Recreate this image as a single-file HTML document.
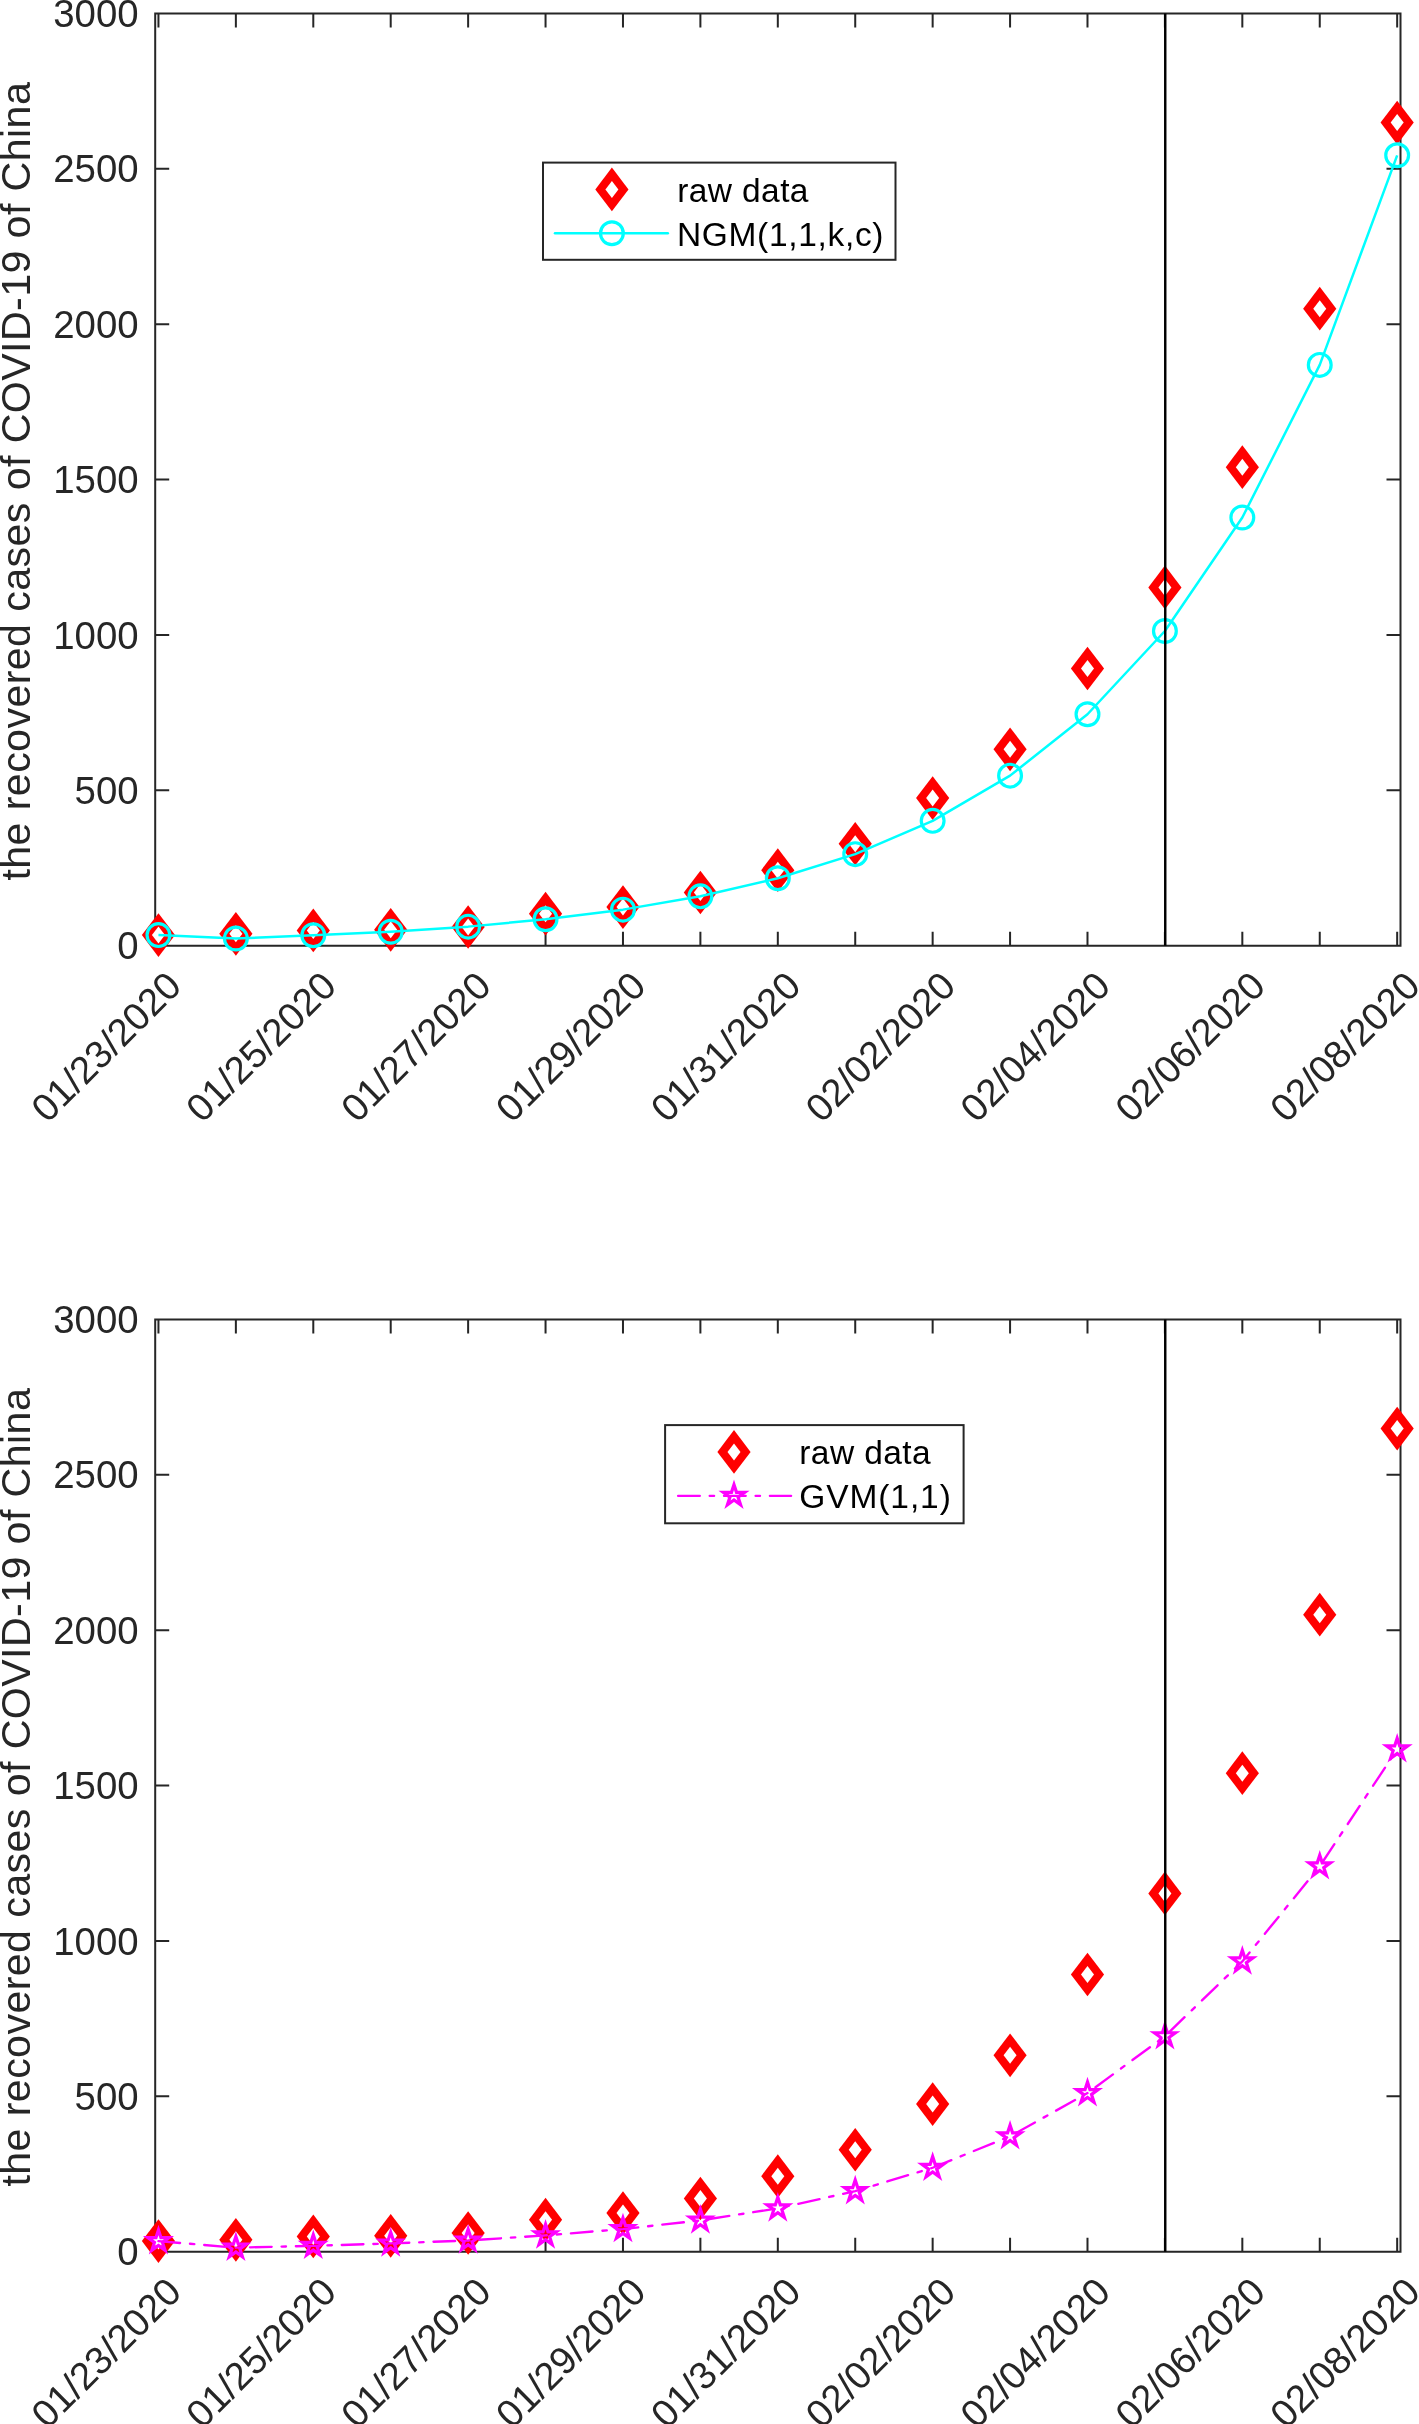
<!DOCTYPE html>
<html><head><meta charset="utf-8"><style>
html,body{margin:0;padding:0;background:#fff;}
body{width:1419px;height:2424px;overflow:hidden;}
svg{display:block;}
text{font-family:"Liberation Sans",sans-serif;}
</style></head><body>
<svg width="1419" height="2424" viewBox="0 0 1419 2424" style="will-change:transform">
<rect width="1419" height="2424" fill="#fff"/>

<path d="M155.2 13.5H1400.5V945.65H155.2ZM158.45 945.65v-13.0M158.45 13.5v13.0M235.87 945.65v-13.0M235.87 13.5v13.0M313.29 945.65v-13.0M313.29 13.5v13.0M390.71 945.65v-13.0M390.71 13.5v13.0M468.13 945.65v-13.0M468.13 13.5v13.0M545.55 945.65v-13.0M545.55 13.5v13.0M622.97 945.65v-13.0M622.97 13.5v13.0M700.39 945.65v-13.0M700.39 13.5v13.0M777.81 945.65v-13.0M777.81 13.5v13.0M855.23 945.65v-13.0M855.23 13.5v13.0M932.65 945.65v-13.0M932.65 13.5v13.0M1010.07 945.65v-13.0M1010.07 13.5v13.0M1087.49 945.65v-13.0M1087.49 13.5v13.0M1164.91 945.65v-13.0M1164.91 13.5v13.0M1242.33 945.65v-13.0M1242.33 13.5v13.0M1319.75 945.65v-13.0M1319.75 13.5v13.0M1397.17 945.65v-13.0M1397.17 13.5v13.0M155.2 945.65h13.0M1400.5 945.65h-13.0M155.2 790.29h13.0M1400.5 790.29h-13.0M155.2 634.93h13.0M1400.5 634.93h-13.0M155.2 479.57h13.0M1400.5 479.57h-13.0M155.2 324.22h13.0M1400.5 324.22h-13.0M155.2 168.86h13.0M1400.5 168.86h-13.0M155.2 13.5h13.0M1400.5 13.5h-13.0" fill="none" stroke="#262626" stroke-width="2.0" stroke-linecap="square"/>
<text x="138.6" y="945.65" dy="0.355em" text-anchor="end" font-size="38.4" fill="#262626">0</text>
<text x="138.6" y="790.29" dy="0.355em" text-anchor="end" font-size="38.4" fill="#262626">500</text>
<text x="138.6" y="634.93" dy="0.355em" text-anchor="end" font-size="38.4" fill="#262626">1000</text>
<text x="138.6" y="479.57" dy="0.355em" text-anchor="end" font-size="38.4" fill="#262626">1500</text>
<text x="138.6" y="324.22" dy="0.355em" text-anchor="end" font-size="38.4" fill="#262626">2000</text>
<text x="138.6" y="168.86" dy="0.355em" text-anchor="end" font-size="38.4" fill="#262626">2500</text>
<text x="138.6" y="13.5" dy="0.355em" text-anchor="end" font-size="38.4" fill="#262626">3000</text>
<text transform="translate(173.75,978.45) rotate(-45)" text-anchor="end" dy="0.355em" font-size="38.4" fill="#262626">01/23/2020</text>
<text transform="translate(328.59,978.45) rotate(-45)" text-anchor="end" dy="0.355em" font-size="38.4" fill="#262626">01/25/2020</text>
<text transform="translate(483.43,978.45) rotate(-45)" text-anchor="end" dy="0.355em" font-size="38.4" fill="#262626">01/27/2020</text>
<text transform="translate(638.27,978.45) rotate(-45)" text-anchor="end" dy="0.355em" font-size="38.4" fill="#262626">01/29/2020</text>
<text transform="translate(793.11,978.45) rotate(-45)" text-anchor="end" dy="0.355em" font-size="38.4" fill="#262626">01/31/2020</text>
<text transform="translate(947.95,978.45) rotate(-45)" text-anchor="end" dy="0.355em" font-size="38.4" fill="#262626">02/02/2020</text>
<text transform="translate(1102.79,978.45) rotate(-45)" text-anchor="end" dy="0.355em" font-size="38.4" fill="#262626">02/04/2020</text>
<text transform="translate(1257.63,978.45) rotate(-45)" text-anchor="end" dy="0.355em" font-size="38.4" fill="#262626">02/06/2020</text>
<text transform="translate(1412.47,978.45) rotate(-45)" text-anchor="end" dy="0.355em" font-size="38.4" fill="#262626">02/08/2020</text>
<text transform="translate(30,481.38) rotate(-90)" text-anchor="middle" font-size="41.2" fill="#262626" textLength="798.4" lengthAdjust="spacing">the recovered cases of COVID-19 of China</text>
<path d="M158.45 913.24L175.05 935.09L158.45 956.94L141.85 935.09Z" fill="#f00"/><path d="M158.45 926.59L164.95 935.09L158.45 943.59L151.95 935.09Z" fill="#fff"/>
<path d="M235.87 911.99L252.47 933.84L235.87 955.69L219.27 933.84Z" fill="#f00"/><path d="M235.87 925.34L242.37 933.84L235.87 942.34L229.37 933.84Z" fill="#fff"/>
<path d="M313.29 908.57L329.89 930.42L313.29 952.27L296.69 930.42Z" fill="#f00"/><path d="M313.29 921.92L319.79 930.42L313.29 938.92L306.79 930.42Z" fill="#fff"/>
<path d="M390.71 907.95L407.31 929.8L390.71 951.65L374.11 929.8Z" fill="#f00"/><path d="M390.71 921.3L397.21 929.8L390.71 938.3L384.21 929.8Z" fill="#fff"/>
<path d="M468.13 905.16L484.73 927.01L468.13 948.86L451.53 927.01Z" fill="#f00"/><path d="M468.13 918.51L474.63 927.01L468.13 935.51L461.63 927.01Z" fill="#fff"/>
<path d="M545.55 891.8L562.15 913.65L545.55 935.5L528.95 913.65Z" fill="#f00"/><path d="M545.55 905.15L552.05 913.65L545.55 922.15L539.05 913.65Z" fill="#fff"/>
<path d="M622.97 885.27L639.57 907.12L622.97 928.97L606.37 907.12Z" fill="#f00"/><path d="M622.97 898.62L629.47 907.12L622.97 915.62L616.47 907.12Z" fill="#fff"/>
<path d="M700.39 870.67L716.99 892.52L700.39 914.37L683.79 892.52Z" fill="#f00"/><path d="M700.39 884.02L706.89 892.52L700.39 901.02L693.89 892.52Z" fill="#fff"/>
<path d="M777.81 848.3L794.41 870.15L777.81 892L761.21 870.15Z" fill="#f00"/><path d="M777.81 861.65L784.31 870.15L777.81 878.65L771.31 870.15Z" fill="#fff"/>
<path d="M855.23 821.88L871.83 843.73L855.23 865.58L838.63 843.73Z" fill="#f00"/><path d="M855.23 835.23L861.73 843.73L855.23 852.23L848.73 843.73Z" fill="#fff"/>
<path d="M932.65 776.21L949.25 798.06L932.65 819.91L916.05 798.06Z" fill="#f00"/><path d="M932.65 789.56L939.15 798.06L932.65 806.56L926.15 798.06Z" fill="#fff"/>
<path d="M1010.07 727.43L1026.67 749.28L1010.07 771.13L993.47 749.28Z" fill="#f00"/><path d="M1010.07 740.78L1016.57 749.28L1010.07 757.78L1003.57 749.28Z" fill="#fff"/>
<path d="M1087.49 646.64L1104.09 668.49L1087.49 690.34L1070.89 668.49Z" fill="#f00"/><path d="M1087.49 659.99L1093.99 668.49L1087.49 676.99L1080.99 668.49Z" fill="#fff"/>
<path d="M1164.91 565.54L1181.51 587.39L1164.91 609.24L1148.31 587.39Z" fill="#f00"/><path d="M1164.91 578.89L1171.41 587.39L1164.91 595.89L1158.41 587.39Z" fill="#fff"/>
<path d="M1242.33 445.3L1258.93 467.15L1242.33 489L1225.73 467.15Z" fill="#f00"/><path d="M1242.33 458.65L1248.83 467.15L1242.33 475.65L1235.83 467.15Z" fill="#fff"/>
<path d="M1319.75 286.83L1336.35 308.68L1319.75 330.53L1303.15 308.68Z" fill="#f00"/><path d="M1319.75 300.18L1326.25 308.68L1319.75 317.18L1313.25 308.68Z" fill="#fff"/>
<path d="M1397.17 100.71L1413.77 122.56L1397.17 144.41L1380.57 122.56Z" fill="#f00"/><path d="M1397.17 114.06L1403.67 122.56L1397.17 131.06L1390.67 122.56Z" fill="#fff"/>
<polyline points="158.45,935.09 235.87,938.5 313.29,935.24 390.71,931.73 468.13,926.63 545.55,919.24 622.97,909.64 700.39,896.34 777.81,878.22 855.23,854.14 932.65,820.84 1010.07,775.63 1087.49,714.23 1164.91,630.99 1242.33,517.48 1319.75,364.92 1397.17,155.31" fill="none" stroke="#0ff" stroke-width="2.5" stroke-linejoin="round"/>
<circle cx="158.45" cy="935.09" r="11.4" fill="none" stroke="#0ff" stroke-width="3.2"/>
<circle cx="235.87" cy="938.5" r="11.4" fill="none" stroke="#0ff" stroke-width="3.2"/>
<circle cx="313.29" cy="935.24" r="11.4" fill="none" stroke="#0ff" stroke-width="3.2"/>
<circle cx="390.71" cy="931.73" r="11.4" fill="none" stroke="#0ff" stroke-width="3.2"/>
<circle cx="468.13" cy="926.63" r="11.4" fill="none" stroke="#0ff" stroke-width="3.2"/>
<circle cx="545.55" cy="919.24" r="11.4" fill="none" stroke="#0ff" stroke-width="3.2"/>
<circle cx="622.97" cy="909.64" r="11.4" fill="none" stroke="#0ff" stroke-width="3.2"/>
<circle cx="700.39" cy="896.34" r="11.4" fill="none" stroke="#0ff" stroke-width="3.2"/>
<circle cx="777.81" cy="878.22" r="11.4" fill="none" stroke="#0ff" stroke-width="3.2"/>
<circle cx="855.23" cy="854.14" r="11.4" fill="none" stroke="#0ff" stroke-width="3.2"/>
<circle cx="932.65" cy="820.84" r="11.4" fill="none" stroke="#0ff" stroke-width="3.2"/>
<circle cx="1010.07" cy="775.63" r="11.4" fill="none" stroke="#0ff" stroke-width="3.2"/>
<circle cx="1087.49" cy="714.23" r="11.4" fill="none" stroke="#0ff" stroke-width="3.2"/>
<circle cx="1164.91" cy="630.99" r="11.4" fill="none" stroke="#0ff" stroke-width="3.2"/>
<circle cx="1242.33" cy="517.48" r="11.4" fill="none" stroke="#0ff" stroke-width="3.2"/>
<circle cx="1319.75" cy="364.92" r="11.4" fill="none" stroke="#0ff" stroke-width="3.2"/>
<circle cx="1397.17" cy="155.31" r="11.4" fill="none" stroke="#0ff" stroke-width="3.2"/>
<path d="M1165.25 13.5V945.65" stroke="#000" stroke-width="2.45"/>
<path d="M155.2 1319.5H1400.5V2251.65H155.2ZM158.45 2251.65v-13.0M158.45 1319.5v13.0M235.87 2251.65v-13.0M235.87 1319.5v13.0M313.29 2251.65v-13.0M313.29 1319.5v13.0M390.71 2251.65v-13.0M390.71 1319.5v13.0M468.13 2251.65v-13.0M468.13 1319.5v13.0M545.55 2251.65v-13.0M545.55 1319.5v13.0M622.97 2251.65v-13.0M622.97 1319.5v13.0M700.39 2251.65v-13.0M700.39 1319.5v13.0M777.81 2251.65v-13.0M777.81 1319.5v13.0M855.23 2251.65v-13.0M855.23 1319.5v13.0M932.65 2251.65v-13.0M932.65 1319.5v13.0M1010.07 2251.65v-13.0M1010.07 1319.5v13.0M1087.49 2251.65v-13.0M1087.49 1319.5v13.0M1164.91 2251.65v-13.0M1164.91 1319.5v13.0M1242.33 2251.65v-13.0M1242.33 1319.5v13.0M1319.75 2251.65v-13.0M1319.75 1319.5v13.0M1397.17 2251.65v-13.0M1397.17 1319.5v13.0M155.2 2251.65h13.0M1400.5 2251.65h-13.0M155.2 2096.29h13.0M1400.5 2096.29h-13.0M155.2 1940.93h13.0M1400.5 1940.93h-13.0M155.2 1785.58h13.0M1400.5 1785.58h-13.0M155.2 1630.22h13.0M1400.5 1630.22h-13.0M155.2 1474.86h13.0M1400.5 1474.86h-13.0M155.2 1319.5h13.0M1400.5 1319.5h-13.0" fill="none" stroke="#262626" stroke-width="2.0" stroke-linecap="square"/>
<text x="138.6" y="2251.65" dy="0.355em" text-anchor="end" font-size="38.4" fill="#262626">0</text>
<text x="138.6" y="2096.29" dy="0.355em" text-anchor="end" font-size="38.4" fill="#262626">500</text>
<text x="138.6" y="1940.93" dy="0.355em" text-anchor="end" font-size="38.4" fill="#262626">1000</text>
<text x="138.6" y="1785.58" dy="0.355em" text-anchor="end" font-size="38.4" fill="#262626">1500</text>
<text x="138.6" y="1630.22" dy="0.355em" text-anchor="end" font-size="38.4" fill="#262626">2000</text>
<text x="138.6" y="1474.86" dy="0.355em" text-anchor="end" font-size="38.4" fill="#262626">2500</text>
<text x="138.6" y="1319.5" dy="0.355em" text-anchor="end" font-size="38.4" fill="#262626">3000</text>
<text transform="translate(173.75,2284.45) rotate(-45)" text-anchor="end" dy="0.355em" font-size="38.4" fill="#262626">01/23/2020</text>
<text transform="translate(328.59,2284.45) rotate(-45)" text-anchor="end" dy="0.355em" font-size="38.4" fill="#262626">01/25/2020</text>
<text transform="translate(483.43,2284.45) rotate(-45)" text-anchor="end" dy="0.355em" font-size="38.4" fill="#262626">01/27/2020</text>
<text transform="translate(638.27,2284.45) rotate(-45)" text-anchor="end" dy="0.355em" font-size="38.4" fill="#262626">01/29/2020</text>
<text transform="translate(793.11,2284.45) rotate(-45)" text-anchor="end" dy="0.355em" font-size="38.4" fill="#262626">01/31/2020</text>
<text transform="translate(947.95,2284.45) rotate(-45)" text-anchor="end" dy="0.355em" font-size="38.4" fill="#262626">02/02/2020</text>
<text transform="translate(1102.79,2284.45) rotate(-45)" text-anchor="end" dy="0.355em" font-size="38.4" fill="#262626">02/04/2020</text>
<text transform="translate(1257.63,2284.45) rotate(-45)" text-anchor="end" dy="0.355em" font-size="38.4" fill="#262626">02/06/2020</text>
<text transform="translate(1412.47,2284.45) rotate(-45)" text-anchor="end" dy="0.355em" font-size="38.4" fill="#262626">02/08/2020</text>
<text transform="translate(30,1787.38) rotate(-90)" text-anchor="middle" font-size="41.2" fill="#262626" textLength="798.4" lengthAdjust="spacing">the recovered cases of COVID-19 of China</text>
<path d="M158.45 2219.24L175.05 2241.09L158.45 2262.94L141.85 2241.09Z" fill="#f00"/><path d="M158.45 2232.59L164.95 2241.09L158.45 2249.59L151.95 2241.09Z" fill="#fff"/>
<path d="M235.87 2217.99L252.47 2239.84L235.87 2261.69L219.27 2239.84Z" fill="#f00"/><path d="M235.87 2231.34L242.37 2239.84L235.87 2248.34L229.37 2239.84Z" fill="#fff"/>
<path d="M313.29 2214.57L329.89 2236.42L313.29 2258.27L296.69 2236.42Z" fill="#f00"/><path d="M313.29 2227.92L319.79 2236.42L313.29 2244.92L306.79 2236.42Z" fill="#fff"/>
<path d="M390.71 2213.95L407.31 2235.8L390.71 2257.65L374.11 2235.8Z" fill="#f00"/><path d="M390.71 2227.3L397.21 2235.8L390.71 2244.3L384.21 2235.8Z" fill="#fff"/>
<path d="M468.13 2211.16L484.73 2233.01L468.13 2254.86L451.53 2233.01Z" fill="#f00"/><path d="M468.13 2224.51L474.63 2233.01L468.13 2241.51L461.63 2233.01Z" fill="#fff"/>
<path d="M545.55 2197.8L562.15 2219.65L545.55 2241.5L528.95 2219.65Z" fill="#f00"/><path d="M545.55 2211.15L552.05 2219.65L545.55 2228.15L539.05 2219.65Z" fill="#fff"/>
<path d="M622.97 2191.27L639.57 2213.12L622.97 2234.97L606.37 2213.12Z" fill="#f00"/><path d="M622.97 2204.62L629.47 2213.12L622.97 2221.62L616.47 2213.12Z" fill="#fff"/>
<path d="M700.39 2176.67L716.99 2198.52L700.39 2220.37L683.79 2198.52Z" fill="#f00"/><path d="M700.39 2190.02L706.89 2198.52L700.39 2207.02L693.89 2198.52Z" fill="#fff"/>
<path d="M777.81 2154.3L794.41 2176.15L777.81 2198L761.21 2176.15Z" fill="#f00"/><path d="M777.81 2167.65L784.31 2176.15L777.81 2184.65L771.31 2176.15Z" fill="#fff"/>
<path d="M855.23 2127.88L871.83 2149.73L855.23 2171.58L838.63 2149.73Z" fill="#f00"/><path d="M855.23 2141.23L861.73 2149.73L855.23 2158.23L848.73 2149.73Z" fill="#fff"/>
<path d="M932.65 2082.21L949.25 2104.06L932.65 2125.91L916.05 2104.06Z" fill="#f00"/><path d="M932.65 2095.56L939.15 2104.06L932.65 2112.56L926.15 2104.06Z" fill="#fff"/>
<path d="M1010.07 2033.43L1026.67 2055.28L1010.07 2077.13L993.47 2055.28Z" fill="#f00"/><path d="M1010.07 2046.78L1016.57 2055.28L1010.07 2063.78L1003.57 2055.28Z" fill="#fff"/>
<path d="M1087.49 1952.64L1104.09 1974.49L1087.49 1996.34L1070.89 1974.49Z" fill="#f00"/><path d="M1087.49 1965.99L1093.99 1974.49L1087.49 1982.99L1080.99 1974.49Z" fill="#fff"/>
<path d="M1164.91 1871.54L1181.51 1893.39L1164.91 1915.24L1148.31 1893.39Z" fill="#f00"/><path d="M1164.91 1884.89L1171.41 1893.39L1164.91 1901.89L1158.41 1893.39Z" fill="#fff"/>
<path d="M1242.33 1751.3L1258.93 1773.15L1242.33 1795L1225.73 1773.15Z" fill="#f00"/><path d="M1242.33 1764.65L1248.83 1773.15L1242.33 1781.65L1235.83 1773.15Z" fill="#fff"/>
<path d="M1319.75 1592.83L1336.35 1614.68L1319.75 1636.53L1303.15 1614.68Z" fill="#f00"/><path d="M1319.75 1606.18L1326.25 1614.68L1319.75 1623.18L1313.25 1614.68Z" fill="#fff"/>
<path d="M1397.17 1406.71L1413.77 1428.56L1397.17 1450.41L1380.57 1428.56Z" fill="#f00"/><path d="M1397.17 1420.06L1403.67 1428.56L1397.17 1437.06L1390.67 1428.56Z" fill="#fff"/>
<polyline points="158.45,2241.15 235.87,2247.64 313.29,2245.84 390.71,2243.45 468.13,2240.46 545.55,2235.37 622.97,2229.06 700.39,2220.45 777.81,2208.37 855.23,2191.15 932.65,2167.76 1010.07,2136.28 1087.49,2093.12 1164.91,2036.2 1242.33,1961.41 1319.75,1866.3 1397.17,1749.35" fill="none" stroke="#f0f" stroke-width="2.35" stroke-dasharray="21.7 9.9 4.4 9.9" stroke-linecap="round"/>
<polygon points="158.45,2230 160.95,2237.7 169.05,2237.7 162.5,2242.46 165,2250.17 158.45,2245.41 151.9,2250.17 154.4,2242.46 147.85,2237.7 155.95,2237.7" fill="none" stroke="#f0f" stroke-width="3.24" stroke-linejoin="miter"/>
<polygon points="235.87,2236.49 238.37,2244.2 246.47,2244.2 239.92,2248.96 242.42,2256.66 235.87,2251.9 229.32,2256.66 231.82,2248.96 225.27,2244.2 233.37,2244.2" fill="none" stroke="#f0f" stroke-width="3.24" stroke-linejoin="miter"/>
<polygon points="313.29,2234.69 315.79,2242.39 323.89,2242.39 317.34,2247.16 319.84,2254.86 313.29,2250.1 306.74,2254.86 309.24,2247.16 302.69,2242.39 310.79,2242.39" fill="none" stroke="#f0f" stroke-width="3.24" stroke-linejoin="miter"/>
<polygon points="390.71,2232.3 393.21,2240 401.31,2240 394.76,2244.76 397.26,2252.47 390.71,2247.71 384.16,2252.47 386.66,2244.76 380.11,2240 388.21,2240" fill="none" stroke="#f0f" stroke-width="3.24" stroke-linejoin="miter"/>
<polygon points="468.13,2229.31 470.63,2237.02 478.73,2237.02 472.18,2241.78 474.68,2249.48 468.13,2244.72 461.58,2249.48 464.08,2241.78 457.53,2237.02 465.63,2237.02" fill="none" stroke="#f0f" stroke-width="3.24" stroke-linejoin="miter"/>
<polygon points="545.55,2224.22 548.05,2231.92 556.15,2231.92 549.6,2236.68 552.1,2244.39 545.55,2239.63 539,2244.39 541.5,2236.68 534.95,2231.92 543.05,2231.92" fill="none" stroke="#f0f" stroke-width="3.24" stroke-linejoin="miter"/>
<polygon points="622.97,2217.91 625.47,2225.62 633.57,2225.62 627.02,2230.38 629.52,2238.08 622.97,2233.32 616.42,2238.08 618.92,2230.38 612.37,2225.62 620.47,2225.62" fill="none" stroke="#f0f" stroke-width="3.24" stroke-linejoin="miter"/>
<polygon points="700.39,2209.3 702.89,2217.01 710.99,2217.01 704.44,2221.77 706.94,2229.47 700.39,2224.71 693.84,2229.47 696.34,2221.77 689.79,2217.01 697.89,2217.01" fill="none" stroke="#f0f" stroke-width="3.24" stroke-linejoin="miter"/>
<polygon points="777.81,2197.22 780.31,2204.92 788.41,2204.92 781.86,2209.68 784.36,2217.39 777.81,2212.63 771.26,2217.39 773.76,2209.68 767.21,2204.92 775.31,2204.92" fill="none" stroke="#f0f" stroke-width="3.24" stroke-linejoin="miter"/>
<polygon points="855.23,2180 857.73,2187.71 865.83,2187.71 859.28,2192.47 861.78,2200.17 855.23,2195.41 848.68,2200.17 851.18,2192.47 844.63,2187.71 852.73,2187.71" fill="none" stroke="#f0f" stroke-width="3.24" stroke-linejoin="miter"/>
<polygon points="932.65,2156.61 935.15,2164.31 943.25,2164.31 936.7,2169.07 939.2,2176.78 932.65,2172.02 926.1,2176.78 928.6,2169.07 922.05,2164.31 930.15,2164.31" fill="none" stroke="#f0f" stroke-width="3.24" stroke-linejoin="miter"/>
<polygon points="1010.07,2125.13 1012.57,2132.84 1020.67,2132.84 1014.12,2137.6 1016.62,2145.3 1010.07,2140.54 1003.52,2145.3 1006.02,2137.6 999.47,2132.84 1007.57,2132.84" fill="none" stroke="#f0f" stroke-width="3.24" stroke-linejoin="miter"/>
<polygon points="1087.49,2081.97 1089.99,2089.68 1098.09,2089.68 1091.54,2094.44 1094.04,2102.14 1087.49,2097.38 1080.94,2102.14 1083.44,2094.44 1076.89,2089.68 1084.99,2089.68" fill="none" stroke="#f0f" stroke-width="3.24" stroke-linejoin="miter"/>
<polygon points="1164.91,2025.05 1167.41,2032.75 1175.51,2032.75 1168.96,2037.52 1171.46,2045.22 1164.91,2040.46 1158.36,2045.22 1160.86,2037.52 1154.31,2032.75 1162.41,2032.75" fill="none" stroke="#f0f" stroke-width="3.24" stroke-linejoin="miter"/>
<polygon points="1242.33,1950.26 1244.83,1957.96 1252.93,1957.96 1246.38,1962.73 1248.88,1970.43 1242.33,1965.67 1235.78,1970.43 1238.28,1962.73 1231.73,1957.96 1239.83,1957.96" fill="none" stroke="#f0f" stroke-width="3.24" stroke-linejoin="miter"/>
<polygon points="1319.75,1855.15 1322.25,1862.85 1330.35,1862.85 1323.8,1867.62 1326.3,1875.32 1319.75,1870.56 1313.2,1875.32 1315.7,1867.62 1309.15,1862.85 1317.25,1862.85" fill="none" stroke="#f0f" stroke-width="3.24" stroke-linejoin="miter"/>
<polygon points="1397.17,1738.2 1399.67,1745.9 1407.77,1745.9 1401.22,1750.66 1403.72,1758.37 1397.17,1753.6 1390.62,1758.37 1393.12,1750.66 1386.57,1745.9 1394.67,1745.9" fill="none" stroke="#f0f" stroke-width="3.24" stroke-linejoin="miter"/>
<path d="M1165.25 1319.5V2251.65" stroke="#000" stroke-width="2.45"/>
<rect x="543" y="162.6" width="352.5" height="97.2" fill="#fff" stroke="#262626" stroke-width="2.0"/>
<path d="M611.9 167.55L628.5 189.4L611.9 211.25L595.3 189.4Z" fill="#f00"/><path d="M611.9 180.9L618.4 189.4L611.9 197.9L605.4 189.4Z" fill="#fff"/>
<text x="677.2" y="201.8" font-size="33.5" fill="#000" textLength="131.3" lengthAdjust="spacing">raw data</text>
<path d="M555 233.3H667.8" stroke="#0ff" stroke-width="2.5" stroke-linecap="round"/>
<circle cx="611.9" cy="233.3" r="11.4" fill="none" stroke="#0ff" stroke-width="3.2"/>
<text x="676.9" y="245.7" font-size="33.5" fill="#000" textLength="206.6" lengthAdjust="spacing">NGM(1,1,k,c)</text>
<rect x="665.1" y="1425.1" width="298.5" height="98.2" fill="#fff" stroke="#262626" stroke-width="2.0"/>
<path d="M734 1430.05L750.6 1451.9L734 1473.75L717.4 1451.9Z" fill="#f00"/><path d="M734 1443.4L740.5 1451.9L734 1460.4L727.5 1451.9Z" fill="#fff"/>
<text x="799.3" y="1464.3" font-size="33.5" fill="#000" textLength="131.3" lengthAdjust="spacing">raw data</text>
<path d="M678.1 1495.8H791.1" stroke="#f0f" stroke-width="2.35" stroke-dasharray="21.7 9.9 4.4 9.9" stroke-linecap="round"/>
<polygon points="734,1484.65 736.5,1492.35 744.6,1492.35 738.05,1497.12 740.55,1504.82 734,1500.06 727.45,1504.82 729.95,1497.12 723.4,1492.35 731.5,1492.35" fill="none" stroke="#f0f" stroke-width="3.24"/>
<text x="799.3" y="1508.4" font-size="33.5" fill="#000" textLength="151.5" lengthAdjust="spacing">GVM(1,1)</text>
</svg>
</body></html>
